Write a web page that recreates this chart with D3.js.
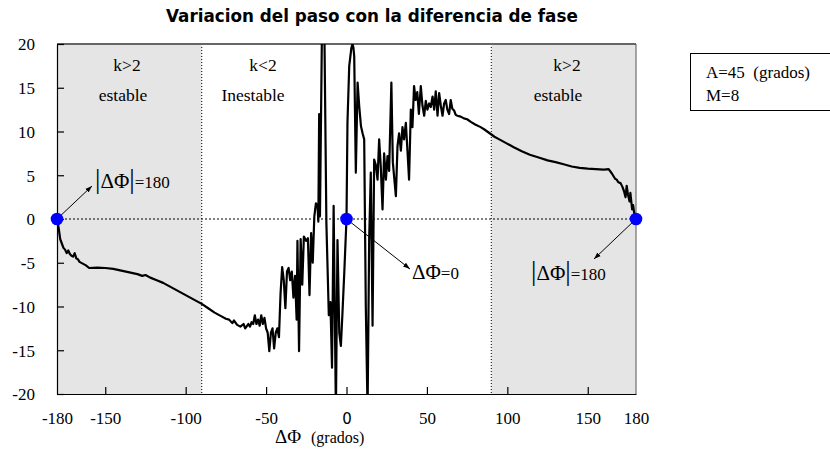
<!DOCTYPE html>
<html><head><meta charset="utf-8">
<script src="https://cdn.jsdelivr.net/npm/d3@7"></script>
<style>body{margin:0;background:#fff}</style>
</head><body>
<svg id="c" width="830" height="472"></svg>
<script>
const phase = [-180,-179,-178,-177,-176,-175,-174,-173,-172,-171,-170,-169,-168,-167,-166,-164,-162,-160,-155,-150,-145,-140,-135,-130,-127,-125,-122,-118,-114,-110,-106,-102,-98,-94,-90,-86,-82,-78,-75,-73,-71,-70,-68,-66,-64,-63,-61,-60,-59,-58,-57,-56,-55,-54,-53,-52,-51,-50,-49,-48,-47,-46,-45,-44,-43,-42,-41,-40,-39,-38,-37,-36,-35,-34,-33,-32,-31,-30.5,-29.5,-28.5,-27.5,-26.5,-25,-24,-23,-22,-21,-20,-19,-18,-17.5,-17,-16.5,-15,-14,-12.5,-11,-10,-9,-8,-6.6,-5.6,-4.5,-3.5,-2.5,-1.4,0,0.6,1.7,3,3.7,4.3,4.8,5.8,6.9,7.9,9,10,11,12,13.1,14.1,15.1,16.2,17.2,18.2,19.3,20.3,21.3,22.4,23.4,24.5,25.5,26.5,27.9,28.8,30.7,31.7,32.7,33.8,34.8,35.8,36.9,37.9,38.9,40,41,42,43,44,45,46.2,47.2,48.3,49.3,50.3,51.4,52.4,53.5,54.5,55.5,56.6,57.6,58.6,59.7,60.7,61.7,62.7,63.8,64.8,65.8,66.9,67.9,69,71,73,75,77.3,80,83.4,86,89,92,95,99,104,109,114,120,125,130,135,140,145,150,155,160,163,165,167,168,169,170.4,171.5,172.5,173.5,174.2,175,176,176.5,177.6,178.2,179,180];
const step = [0,-1.0,-2.3,-2.8,-3.3,-3.5,-3.9,-3.6,-4.0,-4.2,-4.3,-3.9,-4.5,-4.6,-4.9,-5.1,-5.3,-5.6,-5.55,-5.6,-5.7,-5.9,-6.1,-6.3,-6.5,-6.4,-6.7,-7.0,-7.3,-7.7,-8.1,-8.5,-8.9,-9.3,-9.7,-10.2,-10.7,-11.1,-11.4,-11.5,-11.9,-11.6,-12.1,-12.3,-12.0,-12.5,-12.0,-12.3,-11.8,-12.0,-11.0,-12.0,-11.5,-12.2,-11.0,-12.0,-11.3,-12.5,-13.0,-15.1,-13.0,-12.5,-14.8,-13.0,-12.5,-13.5,-8.5,-5.5,-7.0,-10.2,-6.0,-5.6,-7.0,-6.0,-9.0,-6.5,-11.5,-2.5,-15.1,-2.3,-7.5,-2.0,-2.5,-2.2,-8.7,-1.6,-5.0,0.3,1.8,1.5,-0.3,12.0,0.3,26,26,-0.5,-11.0,-9.5,-17.0,1.5,-22,-2.4,-13,-14.5,-10.7,-6.2,0,11,17.5,19.5,20,19.6,18.6,5.3,15.6,12.9,10.6,9.8,9.1,-10,-22,-2.3,5.3,-12.2,6.8,6.2,4.5,9.1,6.0,1.1,7.5,4.5,7.2,5.5,15.6,6.5,2.6,8.3,9.8,7.8,10.5,9.1,11,7.8,4.5,12.5,10.5,15.2,13.6,14.5,12.0,15.2,13.0,11.8,13.5,12.5,13.2,12.8,14.0,12.5,14.6,11.8,14.4,13.0,11.8,13.2,13.6,12.5,12.0,13.6,12.6,12.4,11.9,11.8,11.7,11.5,11.4,11.1,10.8,10.5,10.2,9.8,9.4,9.1,8.7,8.2,7.75,7.35,7.0,6.7,6.5,6.25,6.0,5.85,5.75,5.7,5.65,5.7,5.2,4.6,4.5,4.2,4.1,3.7,3.2,2.5,3.8,2.8,2.0,3.0,1.1,1.6,0.5,0];
const xTicks = [-180,-150,-100,-50,0,50,100,150,180];
const yTicks = [-20,-15,-10,-5,0,5,10,15,20];
const stableZones = [[-180,-90],[90,180]];
const markers = [-180,0,180];

const svg = d3.select("#c");
const x = d3.scaleLinear().domain([-180,180]).range([57,636]);
const y = d3.scaleLinear().domain([-20,20]).range([394,44]);
const serif = "'Liberation Serif','Times New Roman',serif";
const fmt = d => String(d);

// shaded zones
svg.selectAll("rect.zone").data(stableZones).enter().append("rect")
  .attr("x", d=>x(d[0])).attr("y", y(20)).attr("width", d=>x(d[1])-x(d[0])).attr("height", y(-20)-y(20))
  .attr("fill","#e5e5e5");

// dotted lines
svg.append("line").attr("x1",x(-180)).attr("x2",x(180)).attr("y1",y(0)).attr("y2",y(0))
  .attr("stroke","#000").attr("stroke-width",1).attr("stroke-dasharray","2,2");
[-90,90].forEach(v=>svg.append("line").attr("x1",x(v)).attr("x2",x(v)).attr("y1",y(20)).attr("y2",y(-20))
  .attr("stroke","#000").attr("stroke-width",1).attr("stroke-dasharray","1,2"));

// frame
svg.append("line").attr("x1",x(-180)).attr("x2",x(180)).attr("y1",y(20)).attr("y2",y(20)).attr("stroke","#666").attr("stroke-width",2);
svg.append("line").attr("x1",x(180)).attr("x2",x(180)).attr("y1",y(20)).attr("y2",y(-20)).attr("stroke","#555").attr("stroke-width",1);

// axes
const xAxis = svg.append("g").attr("transform",`translate(0,${y(-20)})`)
  .call(d3.axisBottom(x).tickValues(xTicks).tickFormat(fmt).tickSizeInner(-7).tickSizeOuter(0));
const yAxis = svg.append("g").attr("transform",`translate(${x(-180)},0)`)
  .call(d3.axisLeft(y).tickValues(yTicks).tickFormat(fmt).tickSizeInner(-7).tickSizeOuter(0));
[xAxis,yAxis].forEach(a=>{
  a.select(".domain").attr("stroke","#000").attr("stroke-width",1.2);
  a.selectAll(".tick line").attr("stroke","#000").attr("stroke-width",1.2);
  a.selectAll("text").attr("font-family",serif).attr("font-size",17).attr("fill","#000");
});
xAxis.selectAll("text").attr("y",30).attr("dy",0);
yAxis.selectAll("text").attr("x",-22).attr("dy","0.34em");
xAxis.selectAll(".tick").filter(d=>d===-180||d===180).select("line").remove();
xAxis.selectAll(".tick").filter(d=>d===0).select("text").attr("font-family","'DejaVu Sans',sans-serif").attr("font-size",15);

// data line
svg.append("clipPath").attr("id","clip").append("rect")
  .attr("x",x(-180)).attr("y",y(20)).attr("width",x(180)-x(-180)).attr("height",y(-20)-y(20));
const pts = phase.map((p,i)=>[p,step[i]]);
svg.append("path").datum(pts).attr("clip-path","url(#clip)")
  .attr("d", d3.line().x(d=>x(d[0])).y(d=>y(d[1])))
  .attr("fill","none").attr("stroke","#000").attr("stroke-width",2.2).attr("stroke-linejoin","round");

// arrows
const defs = svg.append("defs");
defs.append("marker").attr("id","ah").attr("viewBox","0 0 10 10").attr("refX",10).attr("refY",5)
  .attr("markerWidth",7).attr("markerHeight",7).attr("orient","auto")
  .append("path").attr("d","M0,1.5 L10,5 L0,8.5 Z").attr("fill","#000");
const arrows = [[-180,0,92,186],[0,0,410,269],[180,0,594,259]];
arrows.forEach(a=>svg.append("line").attr("x1",x(a[0])).attr("y1",y(a[1])).attr("x2",a[2]).attr("y2",a[3])
  .attr("stroke","#000").attr("stroke-width",1).attr("marker-end","url(#ah)"));

// markers
svg.selectAll("circle.m").data(markers).enter().append("circle")
  .attr("cx",d=>x(d)).attr("cy",y(0)).attr("r",6.3).attr("fill","#0000ff");

// region labels
const regionText = [["k>2",127,71],["estable",123,101],["k<2",263,71],["Inestable",253,101],["k>2",567,71],["estable",558,101]];
regionText.forEach(t=>svg.append("text").attr("x",t[1]).attr("y",t[2]).attr("text-anchor","middle")
  .attr("font-family",serif).attr("font-size",17.5).text(t[0]));

// annotation labels
function absLabel(x0,yb){
  const t = svg.append("text").attr("x",x0).attr("y",yb).attr("font-family",serif);
  t.append("tspan").attr("font-size",27).text("|");
  t.append("tspan").attr("font-size",21).text("ΔΦ");
  t.append("tspan").attr("font-size",27).text("|");
  t.append("tspan").attr("font-size",17).text("=180");
}
absLabel(95,188);
absLabel(531,280);
const t0 = svg.append("text").attr("x",412).attr("y",279).attr("font-family",serif);
t0.append("tspan").attr("font-size",21).text("ΔΦ");
t0.append("tspan").attr("font-size",17).text("=0");

// legend box
svg.append("rect").attr("x",690.5).attr("y",53.5).attr("width",145).attr("height",57).attr("fill","none").attr("stroke","#000").attr("stroke-width",1);
svg.append("text").attr("x",706).attr("y",78).attr("font-family",serif).attr("font-size",17).attr("xml:space","preserve").text("A=45  (grados)");
svg.append("text").attr("x",706).attr("y",101).attr("font-family",serif).attr("font-size",17).text("M=8");

// title
svg.append("text").attr("x",166).attr("y",22).attr("text-anchor","start")
  .attr("font-family","'DejaVu Sans',sans-serif").attr("font-weight","bold").attr("font-size",16.8)
  .text("Variacion del paso con la diferencia de fase");

// x label
const xl = svg.append("text").attr("x",275).attr("y",443).attr("font-family",serif);
xl.append("tspan").attr("font-size",19).text("ΔΦ");
svg.append("text").attr("x",311).attr("y",443).attr("font-family",serif).attr("font-size",16).text("(grados)");
</script>
</body></html>
